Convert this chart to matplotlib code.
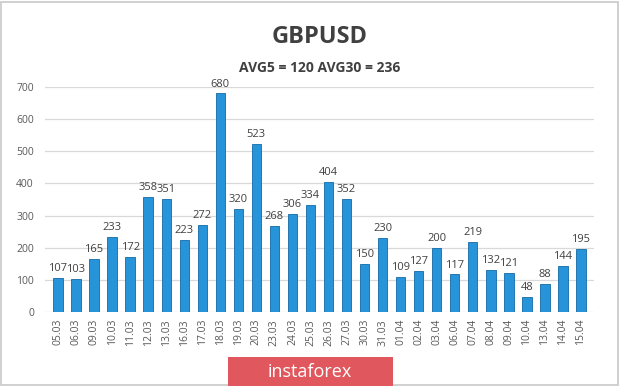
import matplotlib.pyplot as plt
from matplotlib.patches import Rectangle

# ===== Dados =====
datas = ['05.03', '06.03', '09.03', '10.03', '11.03', '12.03', '13.03', '16.03', '17.03', '18.03',
         '19.03', '20.03', '23.03', '24.03', '25.03', '26.03', '27.03', '30.03', '31.03', '01.04',
         '02.04', '03.04', '06.04', '07.04', '08.04', '09.04', '10.04', '13.04', '14.04', '15.04']
valores = [107, 103, 165, 233, 172, 358, 351, 223, 272, 680,
           320, 523, 268, 306, 334, 404, 352, 150, 230, 109,
           127, 200, 117, 219, 132, 121, 48, 88, 144, 195]
titulo = 'GBPUSD'
subtitulo = 'AVG5 = 120 AVG30 = 236'

plt.rcParams['font.family'] = ['Open Sans', 'DejaVu Sans']

fig = plt.figure(figsize=(6.2, 3.86), dpi=100)
ax = fig.add_axes([45 / 620, 1 - 312 / 386, 549 / 620, 225 / 386])

x = range(len(valores))
ax.bar(x, valores, width=0.52, color='#2793d8', edgecolor='#136aa8', linewidth=0.6, zorder=3)

for i, v in enumerate(valores):
    ax.text(i, v + 12, str(v), ha='center', va='bottom', fontsize=8, color='#404040', clip_on=False)

ax.set_xlim(-0.72, len(valores) - 0.28)
ax.set_ylim(0, 700)
ax.set_yticks(range(0, 701, 100))
ax.set_xticks(list(x))
ax.set_xticklabels(datas, rotation=90, fontsize=7.5, color='#595959')
ax.tick_params(axis='y', labelsize=7.5, labelcolor='#595959', length=0, pad=8)
ax.tick_params(axis='x', length=0, pad=5)
ax.grid(axis='y', color='#d9d9d9', linewidth=0.9, zorder=0)
for s in ax.spines.values():
    s.set_visible(False)

fig.text(320 / 620, 1 - 37 / 386, titulo, ha='center', va='center', fontsize=17, fontweight='bold', color='#404040')
fig.text(320 / 620, 1 - 68 / 386, subtitulo, ha='center', va='center', fontsize=10, fontweight='bold', color='#404040')

# marca d'água
fig.patches.append(Rectangle((228 / 620, 0), 165 / 620, 29 / 386, transform=fig.transFigure,
                             facecolor='#e0585d', edgecolor='none', zorder=5))
fig.text(310 / 620, 14 / 386, 'instaforex', ha='center', va='center', fontsize=13, color='white', zorder=6)

# moldura
fig.patches.append(Rectangle((0.002, 0.003), 0.995, 0.993, transform=fig.transFigure,
                             facecolor='none', edgecolor='#c8c8c8', linewidth=1.2))

fig.savefig('out.png', dpi=100)
